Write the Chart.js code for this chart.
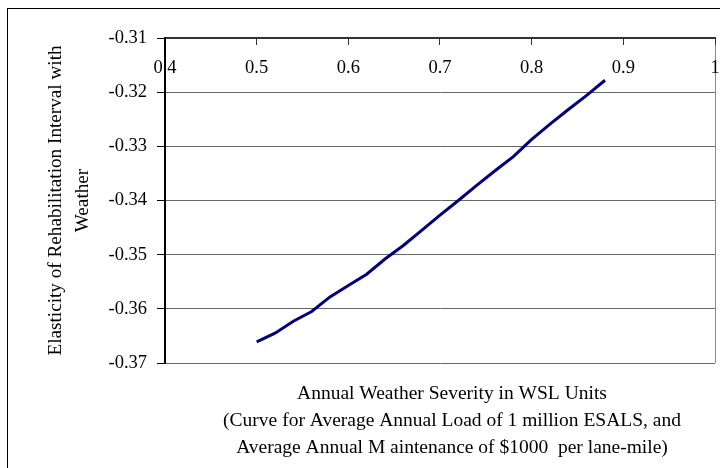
<!DOCTYPE html>
<html>
<head>
<meta charset="utf-8">
<script src="https://cdn.jsdelivr.net/npm/chart.js@4/dist/chart.umd.min.js"></script>
<style>
  html, body { margin: 0; padding: 0; background: #fff; }
  #wrap { width: 720px; height: 468px; position: relative; }
</style>
</head>
<body>
<div id="wrap"><canvas id="c" width="720" height="468"></canvas></div>
<script>
// ---- data ----
const weatherSeverity = [0.50, 0.52, 0.54, 0.56, 0.58, 0.60, 0.62, 0.64, 0.66, 0.68, 0.70, 0.72, 0.74, 0.76, 0.78, 0.80, 0.82, 0.84, 0.86, 0.88];
const elasticity = [-0.3661, -0.3645, -0.3623, -0.3605, -0.3578, -0.3557, -0.3536, -0.3508, -0.3483, -0.3455, -0.3427, -0.3400, -0.3372, -0.3345, -0.3319, -0.3287, -0.3259, -0.3232, -0.3206, -0.3178];
const xTickValues = [0.4, 0.5, 0.6, 0.7, 0.8, 0.9, 1];
const xTickLabels = ["0.4", "0.5", "0.6", "0.7", "0.8", "0.9", "1"];
const yTickValues = [-0.37, -0.36, -0.35, -0.34, -0.33, -0.32, -0.31];
const yTickLabels = ["-0.37", "-0.36", "-0.35", "-0.34", "-0.33", "-0.32", "-0.31"];
const yTitle = ["Elasticity of Rehabilitation Interval with", "Weather"];
const xTitle = ["Annual Weather Severity in WSL Units", "(Curve for Average Annual Load of 1 million ESALS, and", "Average Annual M aintenance of $1000  per lane-mile)"];

const points = weatherSeverity.map((x, i) => ({ x: x, y: elasticity[i] }));
const FONT = "'Liberation Serif', 'Times New Roman', serif";

const outerBorder = {
  id: 'outerBorder',
  beforeDraw(chart) {
    const ctx = chart.ctx;
    ctx.save();
    ctx.fillStyle = '#fff';
    ctx.fillRect(0, 0, chart.width, chart.height);
    ctx.strokeStyle = '#000';
    ctx.lineWidth = 1;
    ctx.strokeRect(7.5, 8.5, 730, 480);
    ctx.restore();
  },
  afterLayout(chart) {
    // shift the bottom title block slightly right, as in the reference
    if (chart.titleBlock) {
      chart.titleBlock.left += 12;
      chart.titleBlock.right += 12;
    }
  }
};

new Chart(document.getElementById('c'), {
  type: 'line',
  data: {
    datasets: [{
      data: points,
      borderColor: '#000080',
      borderWidth: 3,
      pointRadius: 0,
      tension: 0,
      fill: false
    }]
  },
  options: {
    responsive: false,
    animation: false,
    layout: { padding: { top: 38, left: 7, right: 5, bottom: 0 } },
    plugins: {
      legend: { display: false },
      tooltip: { enabled: false },
      title: {
        display: true,
        position: 'bottom',
        fullSize: false,
        text: xTitle,
        color: '#000',
        font: { family: FONT, size: 19.5, weight: 'normal', lineHeight: '27px' },
        padding: { top: 17, bottom: 7 }
      }
    },
    scales: {
      x: {
        type: 'linear',
        position: { y: -0.31 },
        min: 0.4,
        max: 1,
        afterBuildTicks(scale) { scale.ticks = xTickValues.map(v => ({ value: v })); },
        afterFit(scale) { scale.paddingLeft = 0; scale.paddingRight = 0; },
        ticks: {
          callback: (v) => { const i = xTickValues.findIndex(t => Math.abs(t - v) < 1e-9); return i >= 0 ? xTickLabels[i] : ''; },
          color: '#000',
          font: { family: FONT, size: 18.5 },
          padding: 13,
          maxRotation: 0,
          autoSkip: false
        },
        grid: {
          drawOnChartArea: true,
          color: (ctx) => (ctx.tick && Math.abs(ctx.tick.value - 1) < 1e-9) ? '#888' : 'rgba(0,0,0,0)',
          tickColor: '#333',
          tickLength: 6,
          lineWidth: 1
        },
        border: { display: true, color: '#333', width: 2 }
      },
      y: {
        type: 'linear',
        position: 'left',
        min: -0.37,
        max: -0.31,
        afterBuildTicks(scale) { scale.ticks = yTickValues.map(v => ({ value: v })); },
        afterFit(scale) { scale.width = 158; },
        ticks: {
          callback: (v) => { const i = yTickValues.findIndex(t => Math.abs(t - v) < 1e-9); return i >= 0 ? yTickLabels[i] : ''; },
          color: '#000',
          font: { family: FONT, size: 18.5 },
          padding: 10,
          autoSkip: false
        },
        grid: {
          color: '#666',
          tickColor: '#000',
          tickLength: 8,
          lineWidth: 1
        },
        border: { display: true, color: '#000', width: 2 },
        title: {
          display: true,
          text: yTitle,
          color: '#000',
          font: { family: FONT, size: 19.2, lineHeight: '27px' },
          padding: { top: 35.5, bottom: 0 }
        }
      }
    }
  },
  plugins: [outerBorder]
});
</script>
</body>
</html>
